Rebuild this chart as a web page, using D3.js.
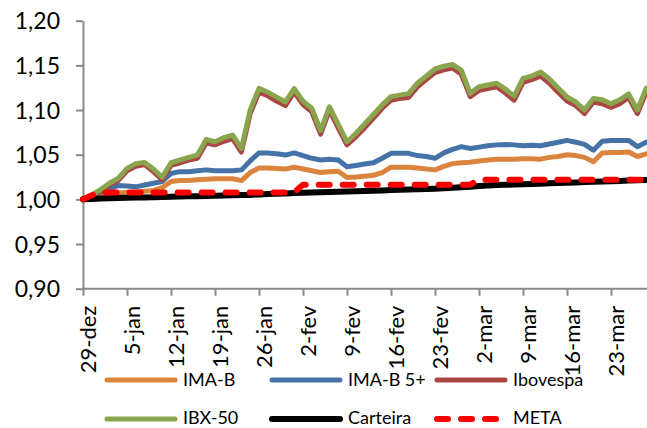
<!DOCTYPE html>
<html><head><meta charset="utf-8">
<script src="https://cdn.jsdelivr.net/npm/d3@7/dist/d3.min.js"></script>
<style>
html,body{margin:0;padding:0;background:#fff;}
svg{display:block;font-family:Lato,"Open Sans",sans-serif;}
</style></head><body>
<svg id="c" width="647" height="428"></svg>
<script>
const categories = ["29-dez","30-dez","31-dez","1-jan","2-jan",
"5-jan","6-jan","7-jan","8-jan","9-jan",
"12-jan","13-jan","14-jan","15-jan","16-jan",
"19-jan","20-jan","21-jan","22-jan","23-jan",
"26-jan","27-jan","28-jan","29-jan","30-jan",
"2-fev","3-fev","4-fev","5-fev","6-fev",
"9-fev","10-fev","11-fev","12-fev","13-fev",
"16-fev","17-fev","18-fev","19-fev","20-fev",
"23-fev","24-fev","25-fev","26-fev","27-fev",
"2-mar","3-mar","4-mar","5-mar","6-mar",
"9-mar","10-mar","11-mar","12-mar","13-mar",
"16-mar","17-mar","18-mar","19-mar","20-mar",
"23-mar","24-mar","25-mar","26-mar","27-mar"];
const tickLabels = ["29-dez","5-jan","12-jan","19-jan","26-jan","2-fev","9-fev","16-fev","23-fev","2-mar","9-mar","16-mar","23-mar"];
const yTicks = [0.90,0.95,1.00,1.05,1.10,1.15,1.20];

const imaB = [1.000,1.002,1.004,1.006,1.007,1.008,1.008,1.009,1.010,1.013,
1.020,1.021,1.021,1.022,1.0225,1.023,1.023,1.023,1.021,1.030,
1.035,1.035,1.0345,1.034,1.036,1.034,1.032,1.030,1.031,1.0315,
1.0245,1.025,1.026,1.027,1.030,1.036,1.036,1.036,1.035,1.034,
1.033,1.037,1.040,1.041,1.0415,1.043,1.044,1.045,1.045,1.045,
1.0455,1.0455,1.045,1.047,1.048,1.050,1.049,1.047,1.042,1.052,
1.0525,1.0525,1.053,1.048,1.051];
const imaB5 = [1.000,1.004,1.008,1.012,1.0155,1.015,1.014,1.016,1.018,1.020,
1.029,1.031,1.031,1.032,1.033,1.032,1.032,1.032,1.033,1.043,
1.052,1.052,1.051,1.0496,1.052,1.049,1.046,1.044,1.045,1.044,
1.0365,1.038,1.0395,1.041,1.046,1.0515,1.0515,1.0515,1.049,1.048,
1.046,1.052,1.056,1.059,1.057,1.0585,1.060,1.061,1.0615,1.061,
1.060,1.0605,1.060,1.062,1.064,1.066,1.064,1.0615,1.055,1.065,
1.066,1.066,1.066,1.059,1.064];
const ibovespa = [1.000,1.004,1.009,1.016,1.021,1.032,1.037,1.039,1.031,1.022,
1.038,1.041,1.044,1.046,1.063,1.061,1.065,1.068,1.053,1.096,
1.120,1.116,1.110,1.105,1.120,1.106,1.098,1.073,1.100,1.080,
1.061,1.070,1.080,1.091,1.102,1.111,1.113,1.114,1.126,1.134,
1.142,1.145,1.147,1.140,1.115,1.122,1.124,1.126,1.119,1.111,
1.131,1.134,1.138,1.130,1.120,1.110,1.105,1.096,1.109,1.107,
1.103,1.107,1.114,1.096,1.120];
const ibx50 = [1.000,1.005,1.011,1.018,1.0235,1.0347,1.040,1.0414,1.034,1.025,
1.041,1.044,1.047,1.0496,1.067,1.0645,1.069,1.072,1.057,1.100,
1.1243,1.120,1.1145,1.109,1.124,1.110,1.102,1.077,1.1037,1.0843,
1.0645,1.0737,1.0843,1.095,1.1058,1.115,1.1167,1.1184,1.130,1.138,
1.146,1.149,1.151,1.1445,1.1187,1.126,1.128,1.130,1.1235,1.1156,
1.1355,1.138,1.1425,1.1347,1.1246,1.1146,1.109,1.100,1.113,1.1115,
1.107,1.1115,1.118,1.100,1.1245];
const carteira = [1.000,1.0005,1.001,1.0012,1.0015,1.0018,1.002,1.0022,1.0024,1.0026,
1.003,1.0032,1.0034,1.0036,1.0038,1.004,1.0043,1.0046,1.0048,1.005,
1.0055,1.006,1.0063,1.0066,1.007,1.0075,1.0078,1.008,1.0082,1.0085,
1.0088,1.009,1.0093,1.0096,1.010,1.0105,1.0108,1.011,1.0113,1.0116,
1.012,1.0125,1.013,1.0135,1.014,1.015,1.0155,1.016,1.0163,1.0166,
1.017,1.0173,1.0176,1.018,1.0183,1.0186,1.019,1.0193,1.0196,1.020,
1.0203,1.0206,1.021,1.0213,1.0216];
const meta = [1.000,1.0045,1.0078,1.0078,1.0078,1.0078,1.0078,1.0078,1.0078,1.0078,
1.0078,1.0078,1.0078,1.0078,1.0078,1.0078,1.0078,1.0078,1.0078,1.0078,
1.0078,1.0078,1.0078,1.0078,1.0078,1.0165,1.0165,1.0165,1.0165,1.0165,
1.0165,1.0165,1.0165,1.0165,1.0165,1.0165,1.0165,1.0165,1.0165,1.0165,
1.0165,1.0165,1.0165,1.0165,1.0165,1.022,1.022,1.022,1.022,1.022,
1.022,1.022,1.022,1.022,1.022,1.022,1.022,1.022,1.022,1.022,
1.022,1.022,1.022,1.022,1.022];

const seriesNames = ["IMA-B","IMA-B 5+","Ibovespa","IBX-50","Carteira","META"];
const seriesValues = [imaB, imaB5, ibovespa, ibx50, carteira, meta];
const seriesColors = ["#DB843D","#4572A7","#AA4643","#89A54E","#000000","#FF0000"];
const seriesWidths = [5,5,5,5,6,6];
const seriesDash = [null,null,null,null,null,"11 13"];

const svg = d3.select("#c");
const pLeft = 83, pRight = 646.2, pTop = 20.7, pBottom = 288.7;
const x = d3.scalePoint().domain(categories).range([pLeft, pRight]);
const y = d3.scaleLinear().domain([0.90, 1.20]).range([pBottom, pTop]);
const axisColor = "#898989";
const loc = d3.formatLocale({decimal: ",", thousands: ".", grouping: [3], currency: ["R$", ""]});
const fmt = loc.format(".2f");

// Y axis
const gy = svg.append("g").attr("transform", `translate(${pLeft},0)`)
  .call(d3.axisLeft(y).tickValues(yTicks).tickFormat(fmt).tickSizeInner(7).tickSizeOuter(0).tickPadding(16));
gy.select(".domain").attr("stroke", axisColor).attr("stroke-width", 2);
gy.selectAll(".tick line").attr("stroke", axisColor).attr("stroke-width", 2);
gy.selectAll(".tick text").attr("font-family", "Lato").attr("font-size", 23).attr("fill", "#000").attr("dy", "0.36em");

// X axis
const gx = svg.append("g").attr("transform", `translate(0,${pBottom})`)
  .call(d3.axisBottom(x).tickValues(tickLabels).tickSizeInner(7).tickSizeOuter(0));
gx.select(".domain").attr("d", `M${pLeft - 1},0H647`).attr("stroke", axisColor).attr("stroke-width", 2);
gx.selectAll(".tick line").attr("stroke", axisColor).attr("stroke-width", 2);
gx.selectAll(".tick text")
  .attr("font-family", "Lato").attr("font-size", 22).attr("fill", "#000")
  .attr("text-anchor", "end").attr("dy", null).attr("y", null)
  .attr("transform", "translate(12,17) rotate(-90)");

// Lines
const line = d3.line().x((d, i) => x(categories[i])).y(d => y(d));
seriesValues.forEach((vals, k) => {
  const p = svg.append("path").datum(vals)
    .attr("d", line).attr("fill", "none")
    .attr("stroke", seriesColors[k]).attr("stroke-width", seriesWidths[k])
    .attr("stroke-linejoin", "round").attr("stroke-linecap", "round");
  if (seriesDash[k]) p.attr("stroke-dasharray", seriesDash[k]);
});

// Legend
const legX = [107, 272, 437];
const legY = [380, 419];
seriesNames.forEach((name, k) => {
  const row = Math.floor(k / 3);
  const cx = legX[k % 3], cy = legY[row];
  const g = svg.append("g");
  const l = g.append("line").attr("x1", cx).attr("x2", cx + (seriesDash[k] ? 62 : 68))
    .attr("y1", cy).attr("y2", cy)
    .attr("stroke", seriesColors[k]).attr("stroke-width", seriesWidths[k])
    .attr("stroke-linecap", "round");
  if (seriesDash[k]) l.attr("stroke-dasharray", seriesDash[k]);
  g.append("text").attr("x", cx + 76).attr("y", cy).attr("dy", row === 0 ? "0.34em" : "0.26em")
    .attr("font-family", "Lato").attr("font-size", 18).attr("fill", "#000").text(name);
});
</script>
</body></html>
